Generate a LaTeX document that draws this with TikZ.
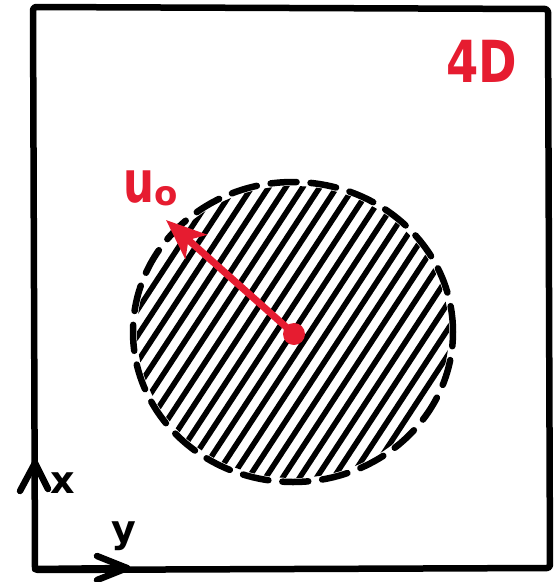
\documentclass[tikz,border=0pt]{standalone}
\usepackage{fontspec}
\setmainfont{DejaVu Sans}
\usetikzlibrary{arrows.meta,calc}
\definecolor{pen}{RGB}{230,28,48}
\tikzset{
  framestroke/.style={line width=6.5pt, line join=round, line cap=round, rounded corners=3pt},
  hatchline/.style={line width=5.5pt, line cap=round},
  boundary/.style={line width=6.5pt, dash pattern=on 26pt off 14pt, line cap=round},
  axisline/.style={line width=6.5pt, line cap=round, line join=round},
  redtext/.style={text=pen, inner sep=0pt},
}
\begin{document}
\begin{tikzpicture}[x=1pt,y=-1pt]
\useasboundingbox (0,0) rectangle (555,582);
% frame
\coordinate (c1) at (33,7);
\coordinate (c2) at (548,9);
\coordinate (c3) at (550,568);
\coordinate (c4) at (35,570);
\draw[framestroke] (c1) -- (c2) -- (c3) -- (c4) -- cycle;
% axes
\coordinate (O) at (35,569);
\coordinate (xa) at (35,463);
\coordinate (ya) at (127,568);
\draw[axisline] (O) -- (xa);
\draw[axisline] (O) -- (ya);
\draw[axisline] ($(xa)+(-15,28)$) -- (xa) -- ($(xa)+(13,26)$);
\draw[axisline] ($(ya)+(-30,-12)$) -- (ya) -- ($(ya)+(-30,12)$);
\node (xl) at (63,483) {\fontsize{38}{38}\selectfont\bfseries x};
\node (yl) at (124,536) {\fontsize{38}{38}\selectfont\bfseries y};
% hatched disc
\coordinate (ctr) at (293,332);
\begin{scope}
  \clip (ctr) ellipse [x radius=156pt, y radius=146pt];
  \foreach \k in {-14,...,14} {
    \draw[hatchline] ($(ctr)+(\k*17,0)+(-200*0.55,200*0.84)$) -- ($(ctr)+(\k*17,0)+(200*0.55,-200*0.84)$);
  }
\end{scope}
\draw[boundary] (ctr) ellipse [x radius=160pt, y radius=150pt];
% vector u0
\node[circle, fill=pen, minimum size=22pt, inner sep=0pt] (dot) at (294,334) {};
\coordinate (tip) at (166,220);
\draw[pen, line width=7pt, -{Stealth[length=40pt,width=32pt,inset=10pt]}] (dot.center) -- (tip);
\node[redtext] (u0) at (151,188) {\fontsize{58}{58}\selectfont\bfseries\scalebox{0.75}[1]{u}\raisebox{-3pt}{\fontsize{34}{34}\selectfont o}};
\node[redtext] (lab) at (482,61) {\fontsize{58}{58}\selectfont\bfseries\scalebox{0.8}[1]{4D}};
\end{tikzpicture}
\end{document}
